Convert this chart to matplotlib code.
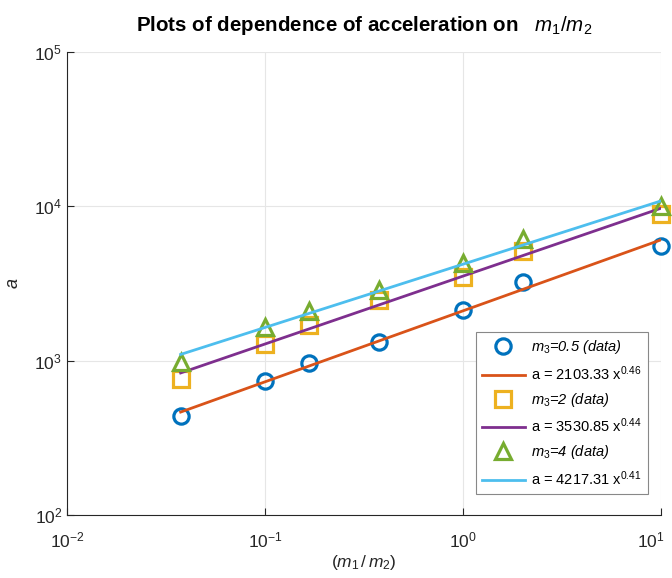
import numpy as np
import matplotlib.pyplot as plt
from matplotlib.transforms import ScaledTranslation

plt.rcParams['font.family'] = ['Liberation Sans', 'DejaVu Sans']
plt.rcParams['mathtext.fontset'] = 'custom'
plt.rcParams['mathtext.rm'] = 'Liberation Sans'
plt.rcParams['mathtext.it'] = 'Liberation Sans:italic'
plt.rcParams['mathtext.bf'] = 'Liberation Sans:bold'

# data
ratio = [0.0375, 0.1, 0.1667, 0.375, 1.0, 2.0, 10.0]
a_m3_05 = [440, 740, 960, 1330, 2130, 3220, 5500]
a_m3_2 = [764, 1290, 1700, 2480, 3510, 5100, 8900]
a_m3_4 = [985, 1660, 2090, 2890, 4300, 6100, 10100]

# fitted power laws (from the legend)
fit_C = [2103.33, 3530.85, 4217.31]
fit_p = [0.46, 0.44, 0.41]

blue = '#0072BD'
orange = '#D95319'
yellow = '#EDB120'
purple = '#7E2F8E'
green = '#77AC30'
cyan = '#4DBEEE'

fig = plt.figure(figsize=(6.72, 5.78), dpi=100)
ax = fig.add_axes([67/672, 1-515/578, 594/672, 463/578])

x = np.array(ratio)
ms = 11
mew = 2.3
lw = 2.0
ax.plot(x, a_m3_05, 'o', mfc='none', mec=blue, ms=ms, mew=mew, clip_on=False,
        label='$m_3$=0.5 (data)')
ax.plot(x, fit_C[0]*x**fit_p[0], '-', color=orange, lw=lw,
        label='a = 2103.33 x$^{0.46}$')
ax.plot(x, a_m3_2, 's', mfc='none', mec=yellow, ms=ms, mew=mew, clip_on=False,
        label='$m_3$=2 (data)')
ax.plot(x, fit_C[1]*x**fit_p[1], '-', color=purple, lw=lw,
        label='a = 3530.85 x$^{0.44}$')
ax.plot(x, a_m3_4, '^', mfc='none', mec=green, ms=ms, mew=mew, clip_on=False,
        label='$m_3$=4 (data)')
ax.plot(x, fit_C[2]*x**fit_p[2], '-', color=cyan, lw=lw,
        label='a = 4217.31 x$^{0.41}$')

ax.set_xscale('log')
ax.set_yscale('log')
ax.set_xlim(1e-2, 1e1)
ax.set_ylim(1e2, 1e5)
ax.set_xticks([1e-2, 1e-1, 1e0, 1e1])
ax.set_yticks([1e2, 1e3, 1e4, 1e5])
ax.minorticks_off()
ax.grid(True, color='#e6e6e6', lw=0.8)
ax.set_axisbelow(True)
for s in ['top', 'right']:
    ax.spines[s].set_visible(False)
for s in ['left', 'bottom']:
    ax.spines[s].set_color('#262626')
    ax.spines[s].set_linewidth(0.8)
ax.tick_params(direction='in', length=5, width=0.8, colors='#262626',
               labelsize=12.5)
ax.tick_params(axis='x', pad=11)

# keep the last x tick label inside the figure
last = ax.get_xticklabels()[-1]
last.set_transform(last.get_transform() + ScaledTranslation(-7/72, 0, fig.dpi_scale_trans))

ax.set_xlabel('$(m_1\\,/\\,m_2)$', fontsize=12.5, color='#262626', labelpad=2)
ax.set_ylabel('$a$', fontsize=13, color='#262626')
ax.yaxis.set_label_coords(-0.076, 0.5)
ax.set_title('Plots of dependence of acceleration on   $m_1/m_2$',
             fontsize=14.8, fontweight='bold', pad=15)

leg = ax.legend(loc='lower right', bbox_to_anchor=(0.99, 0.03), fontsize=10.5,
                fancybox=False, edgecolor='#888888', framealpha=1,
                handlelength=3.0, handletextpad=0.4, labelspacing=0.55,
                borderpad=0.4)
leg.get_frame().set_linewidth(0.8)
for i in (0, 2, 4):
    leg.get_texts()[i].set_fontstyle('italic')

fig.savefig('out.png', dpi=100)
